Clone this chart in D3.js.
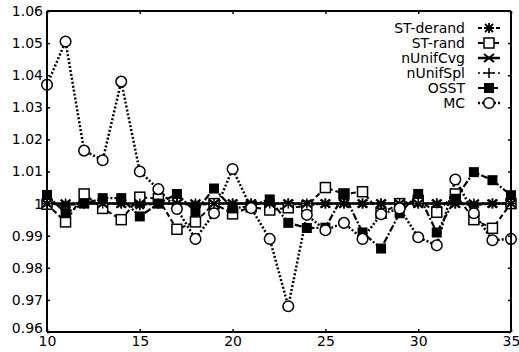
<!DOCTYPE html>
<html><head><meta charset="utf-8">
<script src="https://cdn.jsdelivr.net/npm/d3@7"></script>
<style>body{margin:0;background:#fff}svg{display:block}</style>
</head><body>
<svg id="c" width="519" height="352"></svg>
<script>
const xs = d3.range(10, 36);
const stDerand = [1.0,0.9995,1.0,1.0,1.0,0.9995,1.0,1.0,0.9995,1.0,1.0,1.0,1.0,1.0,0.9995,1.0,1.0,1.0,1.0,1.0,1.0,1.0,1.0,0.9995,1.0,1.0];
const stRand = [0.9998,0.9943,1.003,0.9985,0.995,1.002,1.0015,0.992,0.9943,1.0,0.9968,0.999,0.998,0.9987,0.9992,1.005,1.003,1.0037,0.997,1.0,1.001,0.9973,1.003,0.995,0.9923,1.0];
const nUnifCvg = xs.map(() => 1.0);
const nUnifSpl = xs.map(() => 1.0);
const osst = [1.0027,0.997,1.0,1.0017,1.0017,0.996,1.0,1.003,0.9975,1.0047,0.9985,0.9993,1.0013,0.994,0.9924,0.9925,1.003,0.991,0.986,0.997,1.003,0.991,1.0015,1.0098,1.0073,1.0026];
const mc = [1.037,1.0505,1.0165,1.0135,1.038,1.010,1.0045,0.9983,0.989,0.997,1.0108,0.9986,0.989,0.968,0.9965,0.9917,0.994,0.989,0.9967,0.9985,0.9895,0.987,1.0075,0.997,0.9886,0.989];
const yTicks = [0.96,0.97,0.98,0.99,1,1.01,1.02,1.03,1.04,1.05,1.06];
const xTicks = [10,15,20,25,30,35];
const seriesNames = ["ST-derand","ST-rand","nUnifCvg","nUnifSpl","OSST","MC"];

const svg = d3.select("#c");
const L=47, R=511, T=11, B=332;
const x = d3.scaleLinear().domain([10,35]).range([L,R]);
const y = d3.scaleLinear().domain([0.96,1.06]).range([B,T]);
const font = "DejaVu Sans, sans-serif";

const series = [
  {name:seriesNames[0], v:stDerand, dash:"4,2", w:2, m:"star"},
  {name:seriesNames[1], v:stRand, dash:"5,3", w:2, m:"square"},
  {name:seriesNames[2], v:nUnifCvg, dash:null, w:2.5, m:"x"},
  {name:seriesNames[3], v:nUnifSpl, dash:"2,3", w:1.5, m:"plus"},
  {name:seriesNames[4], v:osst, dash:"7,2,2,2", w:2.2, m:"fsquare"},
  {name:seriesNames[5], v:mc, dash:"2,2", w:2.5, m:"circle"}
];

function marker(g, type, cx, cy){
  if(type==="circle") g.append("circle").attr("cx",cx).attr("cy",cy).attr("r",5.3).attr("fill","#fff").attr("stroke","#000").attr("stroke-width",1.5);
  else if(type==="square") g.append("rect").attr("x",cx-5).attr("y",cy-5).attr("width",10).attr("height",10).attr("fill","#fff").attr("stroke","#000").attr("stroke-width",1.5);
  else if(type==="fsquare") g.append("rect").attr("x",cx-5).attr("y",cy-5).attr("width",10).attr("height",10).attr("fill","#000");
  else if(type==="x") g.append("path").attr("d",`M${cx-5},${cy-4}L${cx+5},${cy+4}M${cx-5},${cy+4}L${cx+5},${cy-4}`).attr("stroke","#000").attr("stroke-width",2);
  else if(type==="plus") g.append("path").attr("d",`M${cx-5},${cy}L${cx+5},${cy}M${cx},${cy-5}L${cx},${cy+5}`).attr("stroke","#000").attr("stroke-width",1.5);
  else if(type==="star") g.append("path").attr("d",`M${cx-5},${cy}L${cx+5},${cy}M${cx},${cy-5}L${cx},${cy+5}M${cx-4},${cy-4}L${cx+4},${cy+4}M${cx-4},${cy+4}L${cx+4},${cy-4}`).attr("stroke","#000").attr("stroke-width",1.8);
}

const line = d3.line().x((d,i)=>x(xs[i])).y(d=>y(d));
series.forEach(s=>{
  svg.append("path").datum(s.v).attr("d",line).attr("fill","none").attr("stroke","#000")
    .attr("stroke-width",s.w).attr("stroke-dasharray",s.dash);
});
series.forEach(s=>{
  const g = svg.append("g");
  s.v.forEach((d,i)=>marker(g, s.m, x(xs[i]), y(d)));
});

const tl=3;
const axL = svg.append("g").attr("transform",`translate(${L},0)`).call(d3.axisLeft(y).tickValues(yTicks).tickSize(-tl).tickPadding(6).tickFormat(d=>d===1?"1":d3.format(".2f")(d)));
const axR = svg.append("g").attr("transform",`translate(${R},0)`).call(d3.axisRight(y).tickValues(yTicks).tickSize(-tl).tickFormat(""));
const axB = svg.append("g").attr("transform",`translate(0,${B})`).call(d3.axisBottom(x).tickValues(xTicks).tickSize(-tl).tickPadding(6));
const axT = svg.append("g").attr("transform",`translate(0,${T})`).call(d3.axisTop(x).tickValues(xTicks).tickSize(-tl).tickFormat(""));
[axL,axR,axB,axT].forEach(a=>{
  a.select(".domain").attr("stroke","#000").attr("stroke-width",2);
  a.selectAll(".tick line").attr("stroke","#000").attr("stroke-width",1.5);
  a.selectAll("text").attr("font-family",font).attr("font-size",14).attr("fill","#000");
});
axL.select(".domain").attr("d",`M0,${T}V${B}`);
axR.select(".domain").attr("d",`M0,${T}V${B}`);
axB.select(".domain").attr("d",`M${L},0H${R}`);
axT.select(".domain").attr("d",`M${L},0H${R}`);
axL.selectAll(".tick text").attr("x",-4);
axL.selectAll(".tick").filter(d=>d===0.96).select("text").attr("y",-4);
axB.selectAll(".tick text").attr("y",4).attr("dy","0.71em");

const lg = svg.append("g");
const rowY = [28,43,58,73,88,103];
series.forEach((s,i)=>{
  lg.append("text").attr("x",465).attr("y",rowY[i]).attr("dy","0.36em").attr("text-anchor","end")
    .attr("font-family",font).attr("font-size",14).text(s.name);
  lg.append("path").attr("d",`M478,${rowY[i]}H500`).attr("stroke","#000").attr("stroke-width",s.w).attr("stroke-dasharray",s.dash);
  marker(lg, s.m, 489, rowY[i]);
});
</script>
</body></html>
